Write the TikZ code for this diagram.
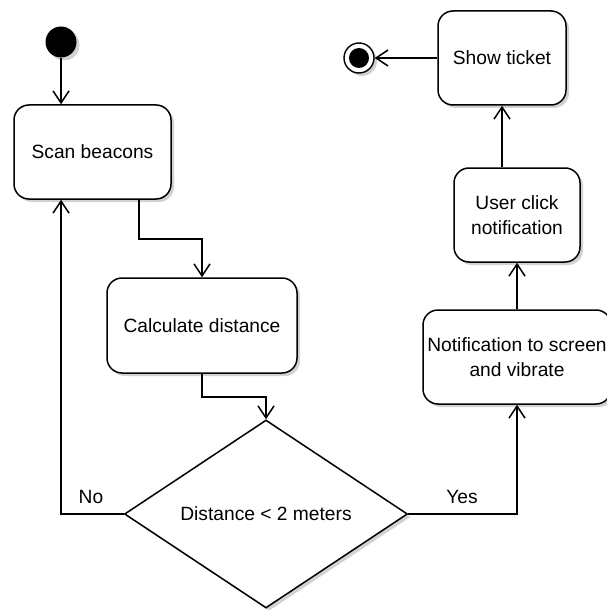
\documentclass[tikz,border=0pt]{standalone}
\usepackage{fontspec}
\setmainfont{Liberation Sans}
\usetikzlibrary{arrows.meta,shapes.geometric,shadows}
\begin{document}
\begin{tikzpicture}[x=0.5pt,y=-0.5pt,
  font=\fontsize{9.6}{12.5}\selectfont,
  lw/.style={line width=0.75pt},
  shad/.style={drop shadow={shadow xshift=1.5pt,shadow yshift=-1.5pt,fill=black!25,opacity=0.7}},
  act/.style={draw,lw,rounded corners=7.5pt,fill=white,shad,align=center,inner sep=0pt,minimum height=47pt},
  conn/.style={draw,lw,-{Straight Barb[length=6pt,width=8pt,line width=0.75pt]}},
  lbl/.style={inner sep=0pt},
]
\useasboundingbox (0,0) rectangle (606,610);
% nodes
\node[circle,fill=black,minimum size=15.5pt,inner sep=0pt,shad] (start) at (61,42) {};
\node[act,minimum width=78.5pt] (scan) at (92.5,152) {Scan beacons};
\node[act,minimum width=95pt,minimum height=47.5pt] (calc) at (202,325.5) {Calculate distance};
\node[draw,lw,diamond,fill=white,shad,minimum width=141.5pt,minimum height=94pt,inner sep=0pt] (dec) at (266,514) {Distance < 2 meters};
\node[act,minimum width=94pt] (notif) at (517,357) {Notification to screen\\and vibrate};
\node[act,minimum width=63pt] (user) at (517,215) {User click\\notification};
\node[act,minimum width=64pt] (show) at (502,58) {Show ticket};
\node[circle,draw,line width=0.7pt,fill=white,minimum size=15pt,inner sep=0pt,shad] (end) at (359,58) {};
\node[circle,fill=black,minimum size=10pt,inner sep=0pt] (endin) at (end) {};
% labels
\node[lbl] (no) at (91,497) {No};
\node[lbl] (yes) at (462,497) {Yes};
% connectors
\coordinate (sx) at (139,0);
\draw[conn] (start) -- (start |- scan.north);
\draw[conn] (scan.south -| sx) -- ++(0,39) -| (calc.north);
\draw[conn] (calc.south) -- ++(0,23) -| (dec.north);
\draw[conn] (dec.west) -| (scan.south -| start);
\draw[conn] (dec.east) -| (notif.south);
\draw[conn] (notif.north) -- (user.south);
\draw[conn] (user.north -| show.south) -- (show.south);
\draw[conn] (show.west) -- (end.east);
\end{tikzpicture}
\end{document}
